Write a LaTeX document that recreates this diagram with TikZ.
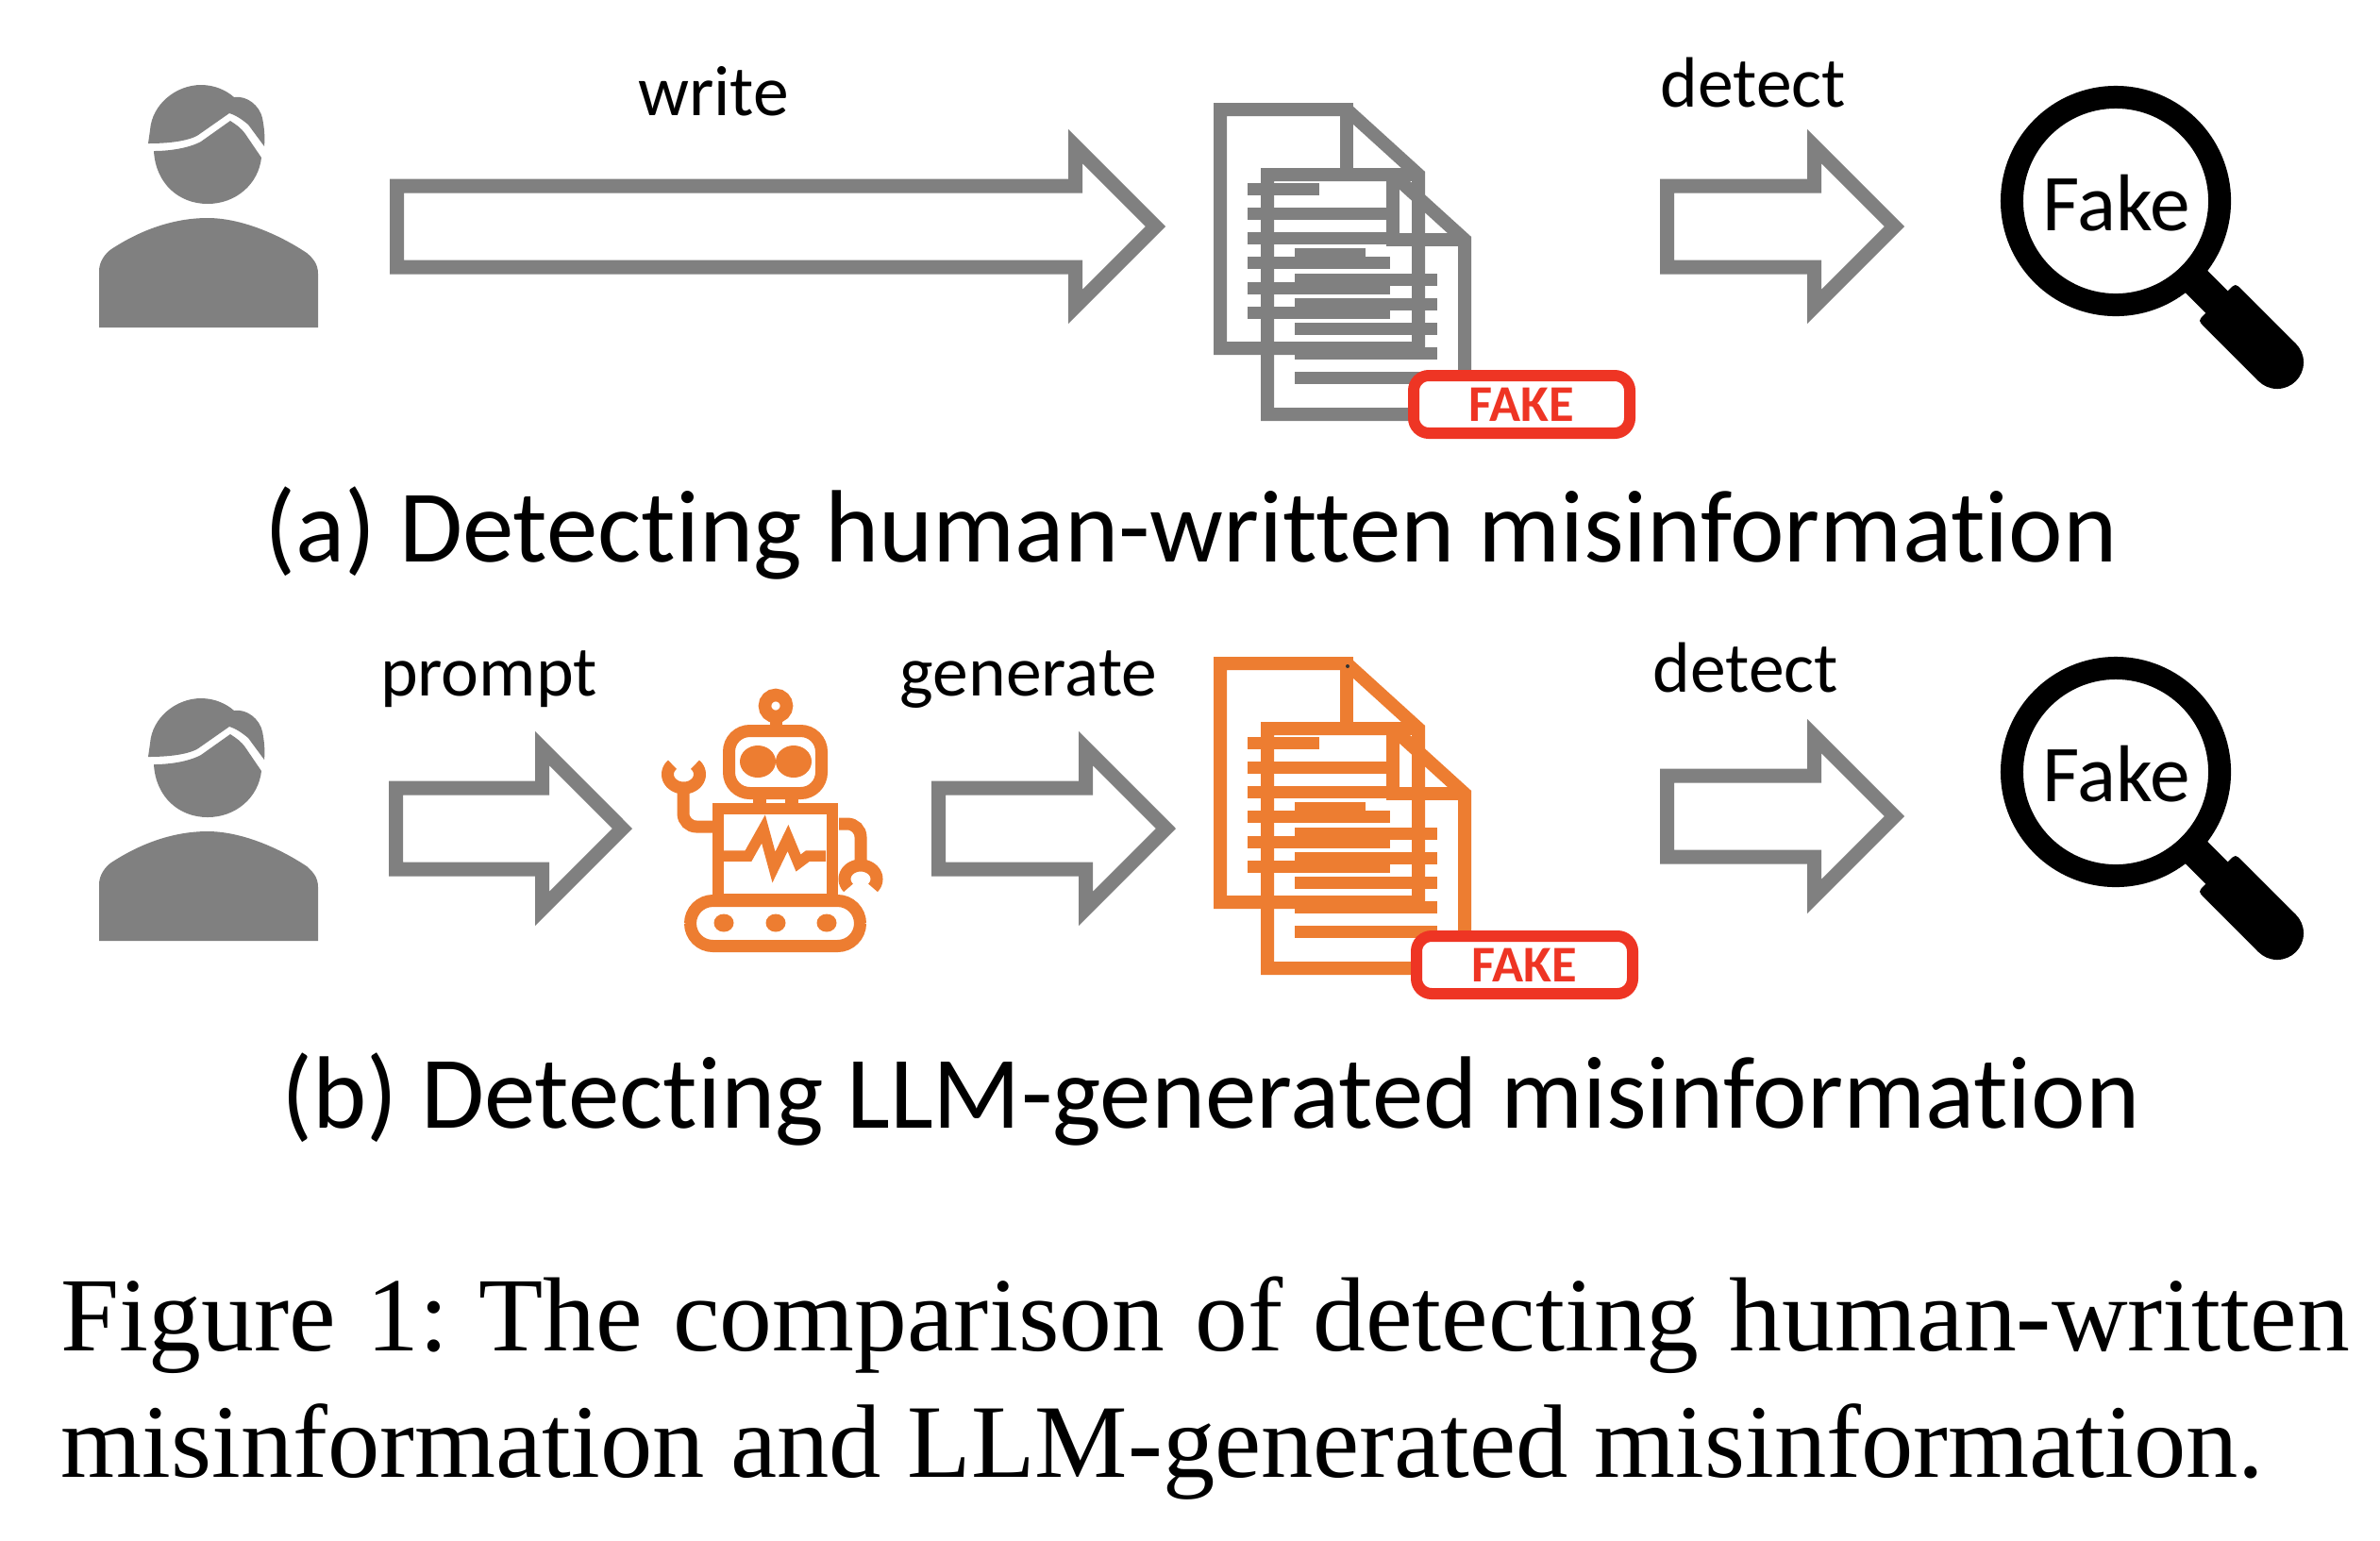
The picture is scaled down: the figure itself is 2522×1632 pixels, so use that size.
\documentclass[tikz,border=0pt]{standalone}
\usepackage{fontspec}
\setmainfont{Carlito}[Ligatures=CommonOff]
\newfontfamily\capfont{Liberation Serif}
\definecolor{icongray}{HTML}{808080}
\definecolor{iconorange}{HTML}{ED7D31}
\definecolor{stampred}{HTML}{EE3524}
\tikzset{
  blockarrow/.style={draw=icongray,line width=0.15cm,miter limit=10,line join=miter},
  sheet/.style={line width=0.14cm,line join=miter,miter limit=10},
  textline/.style={line width=0.13cm},
  robotline/.style={draw=iconorange,line width=0.13cm},
  smalllabel/.style={inner sep=0pt,anchor=base,font=\fontsize{21.5pt}{24pt}\selectfont},
  sublabel/.style={inner sep=0pt,anchor=base,font=\fontsize{31pt}{34pt}\selectfont},
  caplabel/.style={inner sep=0pt,anchor=base west,font=\capfont\fontsize{31.45pt}{38pt}\selectfont},
  fakelabel/.style={inner sep=0pt,anchor=base,font=\fontsize{24.3pt}{28pt}\selectfont},
}
% x0, x1 (outer tip), y centre
\newcommand\blockarr[3]{%
  \pgfmathsetmacro\tipx{#2-10.6}\pgfmathsetmacro\headx{#2-95.5}\pgfmathsetmacro\lft{#1+7.5}
  \draw[blockarrow] (\lft,#3-43) -- (\headx,#3-43) -- (\headx,#3-85) -- (\tipx,#3)
     -- (\headx,#3+85) -- (\headx,#3+43) -- (\lft,#3+43) -- cycle;}
\newcommand\personicon[1]{%
\begin{scope}[shift={(0,#1)}]
 \fill[icongray] (157,152) -- (159,138) .. controls (161,110) and (187,90) .. (213,90)
   .. controls (228,90) and (240,96) .. (248,103) .. controls (262,101) and (275,112) .. (278,125)
   .. controls (280,135) and (281,145) .. (280,155) -- (263,132)
   .. controls (257,127) and (250,122) .. (243,120) -- (213,141)
   .. controls (205,148) and (185,152) .. (157,152) -- cycle;
 \fill[icongray] (163,160) .. controls (180,160) and (200,157) .. (213,150) -- (244,128)
   .. controls (250,132) and (255,135) .. (260,142) -- (277,167)
   .. controls (274,195) and (250,216) .. (220,216) .. controls (190,216) and (165,195) .. (163,160) -- cycle;
 \fill[icongray] (105,347) -- (105,287) .. controls (105,277) and (112,268) .. (118,264)
   .. controls (150,243) and (185,231) .. (220,231) .. controls (255,231) and (295,248) .. (325,268)
   .. controls (332,274) and (337,280) .. (337,290) -- (337,347) -- cycle;
\end{scope}}
\newcommand\docsicon[3]{% colour, dx, dy
\begin{scope}[shift={(#2,#3)},draw=#1]
 \draw[sheet] (1293,369) -- (1293,116) -- (1427,116) -- (1503,185) -- (1503,369) -- cycle;
 \draw[sheet] (1427,109) -- (1427,185) -- (1503,185);
 \draw[sheet] (1343,439) -- (1343,185) -- (1476,185) -- (1552,254) -- (1552,439) -- cycle;
 \draw[sheet] (1476,185) -- (1476,254) -- (1552,254);
 \foreach \y/\e in {200/1398,226/1473,252/1473,278/1473,305/1473,331/1473}
   \draw[textline] (1322,\y) -- (\e,\y);
 \foreach \y/\e in {269/1447,296/1523,322/1523,348/1523,374/1523,400/1523}
   \draw[textline] (1372,\y) -- (\e,\y);
\end{scope}}
\newcommand\stampicon[3]{% name, dx, dy
\begin{scope}[shift={(#2,#3)}]
 \draw[stampred,fill=white,line width=0.12cm,rounded corners=0.16cm] (1498,398) rectangle (1727,459);
 \node[text=stampred,inner sep=0pt,anchor=base,font=\bfseries\fontsize{15.5pt}{18pt}\selectfont] (#1) at (1612,446) {FAKE};
\end{scope}}
\newcommand\lensicon[2]{% name, dy
\begin{scope}[shift={(0,#2)}]
 \draw[black,line width=0.24cm] (2242,213) circle [radius=1.10cm];
 \draw[black,line width=0.33cm] (2322,293) -- (2352,323);
 \fill[black] (2361.7,307.3) .. controls (2368.8,300.2) .. (2375.9,307.3) -- (2432.8,364.2)
   -- (2393.2,403.8) -- (2336.3,346.9)
   .. controls (2329.2,339.8) .. (2336.3,332.7) -- cycle;
 \fill[black] (2413,384) circle [radius=0.28cm];
 \node[fakelabel] (#1) at (2243,244) {Fake};
\end{scope}}
\begin{document}
\begin{tikzpicture}[x=0.01cm,y=-0.01cm]
\useasboundingbox (0,0) rectangle (2522,1632);
\fill[white] (0,0) rectangle (2522,1632);

% row (a)
\personicon{0}
\blockarr{413}{1235}{240}
\node[smalllabel] (write) at (756,122) {write};
\docsicon{icongray}{0}{0}
\stampicon{fakea}{0}{0}
\node[smalllabel] (detecta) at (1858,113) {detect};
\blockarr{1759}{2018}{240}
\lensicon{lensa}{0}
\node[sublabel] (capa) at (1262,595) {(a) Detecting human-written misinformation};

% row (b)
\personicon{650}
\node[smalllabel] (prompt) at (518,737) {prompt};
\blockarr{412}{670}{878}
\begin{scope}
 \draw[robotline,line width=0.135cm] (822,748) circle [radius=0.115cm];
 \draw[robotline] (822,762) -- (822,772);
 \draw[robotline,rounded corners=0.22cm] (772.5,774.5) rectangle (870.5,840.5);
 \fill[iconorange] (803,807) ellipse [x radius=0.19cm,y radius=0.17cm];
 \fill[iconorange] (841,807) ellipse [x radius=0.19cm,y radius=0.17cm];
 \fill[iconorange] (798,845) rectangle (812,853);
 \fill[iconorange] (832,845) rectangle (846,853);
 \draw[robotline,line width=0.125cm] (761,857) rectangle (882,953.5);
 \draw[robotline,line width=0.115cm,miter limit=10] (767,907) -- (793,907) -- (809,878.5) -- (820,919) -- (835,888) -- (846,914.5) -- (856,907) -- (875,907);
 \draw[robotline,rounded corners=0.14cm] (756,876) -- (724,876) -- (724,835);
 \draw[robotline] plot[smooth,domain=-45:225,samples=40] ({724.5+17*cos(\x)},{820.5+14.5*sin(\x)});
 \draw[robotline,rounded corners=0.14cm] (889,873) -- (912,873) -- (912,915);
 \draw[robotline] plot[smooth,domain=140:400,samples=40] ({912+17*cos(\x)},{931.5+14.5*sin(\x)});
 \draw[robotline,rounded corners=0.24cm] (731.5,954.5) rectangle (911.5,1002.5);
 \foreach \x in {767,822,876}
   \fill[iconorange] (\x,978) ellipse [x radius=0.105cm,y radius=0.095cm];
\end{scope}
\node[smalllabel] (generate) at (1090,737) {generate};
\blockarr{987}{1246}{878}
\docsicon{iconorange}{0}{587}
\fill[black!80] (1428,706) circle [radius=0.02cm];
\stampicon{fakeb}{3}{594}
\node[smalllabel] (detectb) at (1850,733) {detect};
\blockarr{1759}{2018}{865}
\lensicon{lensb}{605}
\node[sublabel] (capb) at (1283,1195) {(b) Detecting LLM-generated misinformation};

% caption
\node[caplabel,font=\capfont\fontsize{31.75pt}{38pt}\selectfont] (fig1) at (64,1431) {\frenchspacing\makebox[24.24cm][s]{Figure 1: The comparison of detecting human-written}};
\node[caplabel] (fig2) at (64,1565) {misinformation and LLM-generated misinformation.};
\end{tikzpicture}
\end{document}
